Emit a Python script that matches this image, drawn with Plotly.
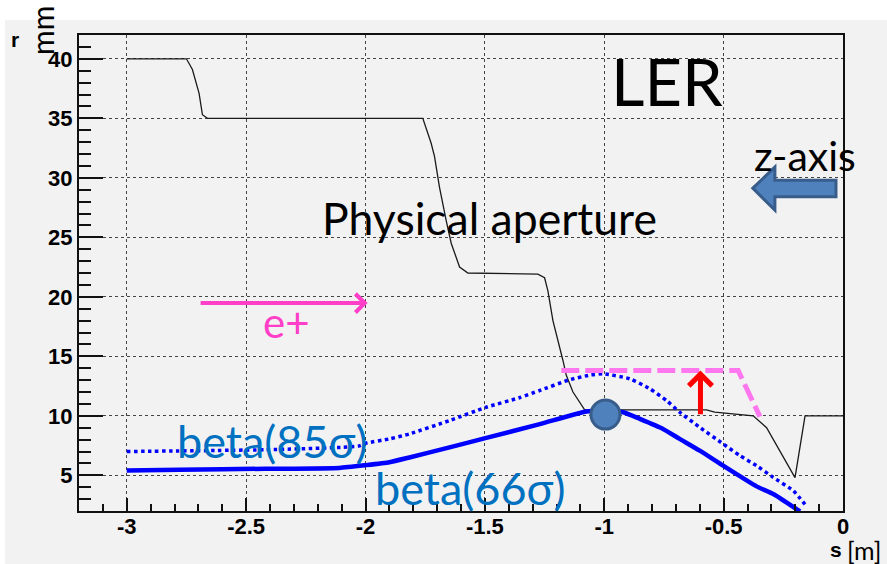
import plotly.graph_objects as go

# ---- data -------------------------------------------------------------
# physical aperture radius along s
aperture_s = [-3.0, -2.75, -2.725, -2.711, -2.697, -2.683, -2.662, -1.760, -1.725,
              -1.711, -1.690, -1.662, -1.641, -1.606, -1.571, -1.278, -1.250, -1.236,
              -1.215, -1.173, -1.159, -1.131, -1.082, -0.572, -0.537, -0.376, -0.320,
              -0.201, -0.159, 0.0]
aperture_r = [40.0, 40.0, 39.1, 38.2, 37.1, 35.3, 35.0, 35.0, 32.9,
              31.8, 29.2, 26.4, 24.5, 22.5, 22.0, 21.9, 21.6, 20.5,
              18.0, 14.65, 13.4, 12.0, 10.5, 10.5, 10.3, 10.0, 9.0,
              4.8, 10.0, 10.0]

# beam envelope, 66 sigma
beta66_s = [-3.0, -2.78, -2.42, -2.11, -2.0, -1.9, -1.816, -1.648, -1.494, -1.27,
            -1.075, -1.0, -0.921, -0.851, -0.754, -0.684, -0.600, -0.502, -0.362,
            -0.292, -0.18]
beta66_r = [5.4, 5.47, 5.55, 5.62, 5.85, 6.1, 6.5, 7.35, 8.14, 9.3,
            10.36, 10.45, 10.3, 9.74, 8.9, 8.06, 7.07, 5.81, 4.07,
            3.43, 1.96]

# beam envelope, 85 sigma
beta85_s = [-3.0, -2.42, -2.03, -1.998, -1.90, -1.816, -1.648, -1.494, -1.355, -1.271,
            -1.15, -1.06, -1.005, -0.893, -0.809, -0.739, -0.684, -0.600, -0.502,
            -0.432, -0.362, -0.292, -0.208, -0.152]
beta85_r = [7.0, 7.15, 7.45, 7.7, 8.06, 8.48, 9.6, 10.72, 11.52, 12.12,
            13.0, 13.42, 13.53, 13.11, 12.27, 11.28, 10.3, 9.03, 7.64,
            6.65, 5.81, 4.82, 3.70, 2.38]

# proposed aperture limit
limit_s = [-1.18, -0.439, -0.348]
limit_r = [13.8, 13.8, 9.93]

# point where the 66 sigma envelope touches the aperture
touch_s = [-0.995]
touch_r = [10.1]

# raise of aperture (red arrow): from -> to
raise_s = -0.597
raise_from, raise_to = 10.0, 13.8

# positron direction arrow
eplus_s = [-2.697, -1.991]
eplus_r = 19.47

x_tickvals = [-3, -2.5, -2, -1.5, -1, -0.5, 0]
x_ticktext = ["-3", "-2.5", "-2", "-1.5", "-1", "-0.5", "0"]
y_tickvals = [5, 10, 15, 20, 25, 30, 35, 40]
y_ticktext = ["5", "10", "15", "20", "25", "30", "35", "40"]

# ---- layout geometry --------------------------------------------------
W, H = 887, 564
ML, MR, MT, MB = 79, 44, 35, 53
PL, PR, PT, PB = ML, W - MR, MT, H - MB


def pxx(p):
    return (p - PL) / (PR - PL)


def pxy(p):
    return (PB - p) / (PB - PT)


BG = "#f2f2f2"
BLUE = "#0000ff"
TXT = "Lato"

fig = go.Figure()

fig.add_trace(go.Scatter(x=aperture_s, y=aperture_r, mode="lines",
                         line=dict(color="#1a1a1a", width=1.3), hoverinfo="skip"))
fig.add_trace(go.Scatter(x=beta85_s, y=beta85_r, mode="lines",
                         line=dict(color=BLUE, width=3.5, dash="dot",
                                   shape="spline", smoothing=0.5),
                         hoverinfo="skip"))
fig.add_trace(go.Scatter(x=beta66_s, y=beta66_r, mode="lines",
                         line=dict(color=BLUE, width=4.5, shape="spline", smoothing=0.5),
                         hoverinfo="skip"))
fig.add_trace(go.Scatter(x=limit_s, y=limit_r, mode="lines",
                         line=dict(color="#ff77ee", width=5, dash="18px,6px"),
                         hoverinfo="skip"))
fig.add_trace(go.Scatter(x=touch_s, y=touch_r, mode="markers",
                         marker=dict(size=29, color="#4f81bd",
                                     line=dict(color="#385d8a", width=3)),
                         hoverinfo="skip"))

# block arrow showing the z-axis direction
zpath = ("M -0.3775,29.13 L -0.2852,30.90 L -0.2852,29.80 L -0.0294,29.80 "
         "L -0.0294,28.41 L -0.2852,28.41 L -0.2852,27.28 Z")
shapes = [
    dict(type="path", path=zpath, xref="x", yref="y", fillcolor="#4f81bd",
         line=dict(color="#385d8a", width=3), layer="above"),
    # white margin strips around the canvas
    dict(type="rect", xref="paper", yref="paper", x0=pxx(0), x1=pxx(W),
         y0=pxy(0), y1=pxy(20), fillcolor="white", line=dict(width=0), layer="below"),
    dict(type="rect", xref="paper", yref="paper", x0=pxx(0), x1=pxx(5),
         y0=pxy(0), y1=pxy(H), fillcolor="white", line=dict(width=0), layer="below"),
]


def label(x, y, text, size, color="black", family=TXT, ref="x", **kw):
    return dict(x=x, y=y, xref=ref if ref == "paper" else "x",
                yref=ref if ref == "paper" else "y", text=text, showarrow=False,
                xanchor="center", yanchor="middle",
                font=dict(family=family, size=size, color=color), **kw)


annotations = [
    dict(x=raise_s, y=raise_to, ax=raise_s, ay=raise_from, axref="x", ayref="y",
         xref="x", yref="y", text="", showarrow=True, arrowhead=4, arrowsize=0.9,
         arrowwidth=5, arrowcolor="#ff0000"),
    dict(x=eplus_s[1], y=eplus_r, ax=eplus_s[0], ay=eplus_r, axref="x", ayref="y",
         xref="x", yref="y", text="", showarrow=True, arrowhead=4, arrowsize=0.9,
         arrowwidth=4, arrowcolor="#ff3fc8"),
    label(-0.738, 38.14, "LER", 65),
    label(-0.159, 31.9, "z-axis", 41),
    label(-1.48, 26.7, "Physical aperture", 44.5),
    label(-2.332, 17.85, "e+", 42, color="#ff3fc8"),
    label(-2.391, 7.91, "beta(85σ)", 45, color="#0070c0"),
    label(-1.564, 3.96, "beta(66σ)", 45, color="#0070c0"),
    # axis titles
    label(pxx(15), pxy(40), "<b>r</b>", 21, family="Liberation Sans", ref="paper"),
    label(pxx(42), pxy(31), "mm", 30, ref="paper", textangle=-90),
    label(pxx(836), pxy(549), "<b>s</b>", 21, family="Liberation Sans", ref="paper"),
    label(pxx(864), pxy(550), "[m]", 25, ref="paper"),
]

axis_common = dict(
    showline=True, mirror=True, linecolor="#111", linewidth=2,
    ticks="inside", tickcolor="#111", tickwidth=2,
    showgrid=True, gridcolor="#444", gridwidth=1, griddash="dot",
    zeroline=False,
    tickfont=dict(family="Liberation Sans", size=22, color="black", weight="bold"),
)

fig.update_layout(
    width=W, height=H,
    margin=dict(l=ML, r=MR, t=MT, b=MB, pad=0),
    paper_bgcolor=BG, plot_bgcolor=BG,
    showlegend=False, hovermode=False,
    shapes=shapes, annotations=annotations,
    xaxis=dict(range=[-3.2, 0], tickvals=x_tickvals, ticktext=x_ticktext,
               ticklen=13, ticklabelstandoff=-5,
               minor=dict(dtick=0.1, tick0=0, ticklen=7, ticks="inside",
                          tickcolor="#111", tickwidth=2, showgrid=False),
               **axis_common),
    yaxis=dict(range=[2, 42], tickvals=y_tickvals, ticktext=y_ticktext,
               ticklen=24, ticklabelstandoff=0,
               minor=dict(dtick=1, tick0=0, ticklen=12, ticks="inside",
                          tickcolor="#111", tickwidth=2, showgrid=False),
               **axis_common),
)

fig.write_html("out.html")
